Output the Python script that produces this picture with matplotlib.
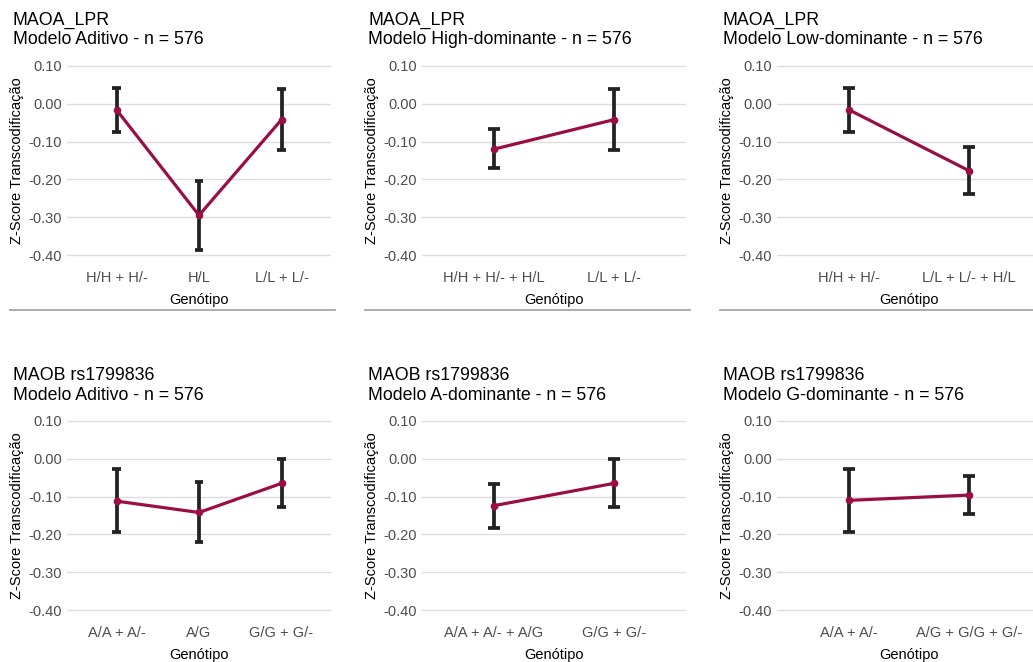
import matplotlib
matplotlib.use("Agg")
import matplotlib.pyplot as plt
from matplotlib.lines import Line2D

plt.rcParams['font.family'] = ['Liberation Sans', 'DejaVu Sans']
plt.rcParams['axes.unicode_minus'] = False

# dados
genes = ['MAOA_LPR', 'MAOA_LPR', 'MAOA_LPR',
         'MAOB rs1799836', 'MAOB rs1799836', 'MAOB rs1799836']
modelos = ['Modelo Aditivo', 'Modelo High-dominante', 'Modelo Low-dominante',
           'Modelo Aditivo', 'Modelo A-dominante', 'Modelo G-dominante']
n_amostra = 576

genotipos = [
    ['H/H + H/-', 'H/L', 'L/L + L/-'],
    ['H/H + H/- + H/L', 'L/L + L/-'],
    ['H/H + H/-', 'L/L + L/- + H/L'],
    ['A/A + A/-', 'A/G', 'G/G + G/-'],
    ['A/A + A/- + A/G', 'G/G + G/-'],
    ['A/A + A/-', 'A/G + G/G + G/-'],
]
medias = [
    [-0.016, -0.295, -0.042],
    [-0.120, -0.042],
    [-0.016, -0.177],
    [-0.112, -0.142, -0.065],
    [-0.124, -0.065],
    [-0.110, -0.096],
]
ic_inf = [
    [-0.075, -0.387, -0.123],
    [-0.170, -0.123],
    [-0.075, -0.238],
    [-0.193, -0.221, -0.128],
    [-0.182, -0.128],
    [-0.193, -0.145],
]
ic_sup = [
    [0.043, -0.203, 0.038],
    [-0.068, 0.038],
    [0.043, -0.115],
    [-0.028, -0.062, 0.000],
    [-0.066, 0.000],
    [-0.028, -0.045],
]
y_ticks = [0.10, 0.00, -0.10, -0.20, -0.30, -0.40]

W, H = 1033, 662
cor_linha = '#990F45'
cor_erro = '#222222'

fig = plt.figure(figsize=(W / 100, H / 100), dpi=100)

col_left = [67, 422, 777]
row_top = [56.5, 411.5]
ax_w, ax_h = 264, 208


def fx(px):
    return px / W


def fy(px):
    return 1 - px / H


for i in range(6):
    r, c = divmod(i, 3)
    left, top = col_left[c], row_top[r]
    ax = fig.add_axes([fx(left), fy(top + ax_h), ax_w / W, ax_h / H])

    x = list(range(len(genotipos[i])))
    m = medias[i]
    lo = [a - b for a, b in zip(m, ic_inf[i])]
    hi = [b - a for a, b in zip(m, ic_sup[i])]

    ax.errorbar(x, m, yerr=[lo, hi], fmt='none', ecolor=cor_erro,
                elinewidth=2.7, capsize=0, zorder=2)
    cap_w = 0.05
    ax.hlines(ic_inf[i], [v - cap_w for v in x], [v + cap_w for v in x],
              color=cor_erro, lw=2.7, zorder=2)
    ax.hlines(ic_sup[i], [v - cap_w for v in x], [v + cap_w for v in x],
              color=cor_erro, lw=2.7, zorder=2)
    ax.plot(x, m, color=cor_linha, lw=2.3, marker='o', ms=4.5, zorder=3)

    ax.set_xlim(-0.6, len(x) - 0.4)
    ax.set_ylim(-0.425, 0.125)
    ax.set_yticks(y_ticks)
    ax.set_yticklabels(['%.2f' % v for v in y_ticks])
    ax.set_xticks(x)
    ax.set_xticklabels(genotipos[i])
    ax.tick_params(length=0, labelsize=10.5, labelcolor='#4D4D4D', pad=3.5)
    ax.tick_params(axis='x', pad=4.5)
    ax.grid(axis='y', color='#DEDEDE', lw=1)
    ax.set_axisbelow(True)
    for s in ax.spines.values():
        s.set_visible(False)
    ax.set_xlabel('Genótipo', fontsize=10.5, labelpad=6)
    ax.set_ylabel('Z-Score Transcodificação', fontsize=10.5, labelpad=3)

    fig.text(fx(left - 54), fy(top - 36.5), genes[i],
             fontsize=12.8, ha='left', va='center')
    fig.text(fx(left - 54), fy(top - 16.5),
             modelos[i] + ' - n = %d' % n_amostra,
             fontsize=12.8, ha='left', va='center')

    sep_y = fy(top + 253.5)
    fig.add_artist(Line2D([fx(left - 57), fx(left + ax_w + 4)], [sep_y, sep_y],
                          color='#A6A6A6', lw=1.3))

fig.savefig('out.png', dpi=100)
